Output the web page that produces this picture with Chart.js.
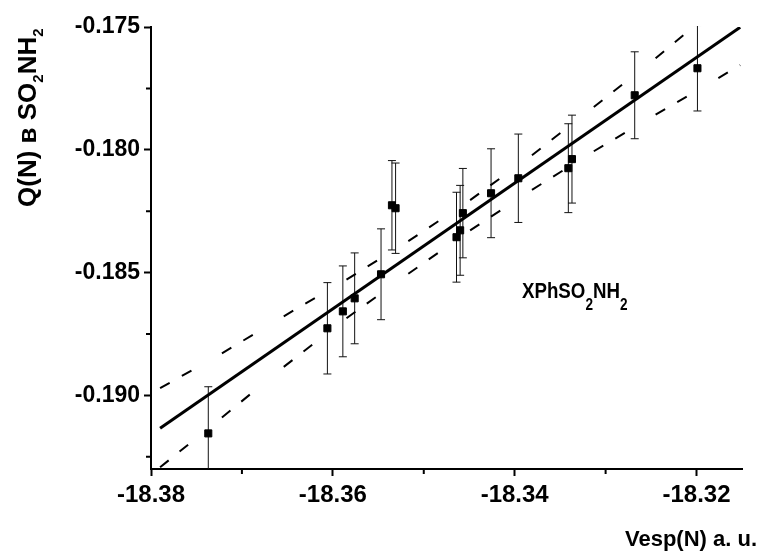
<!DOCTYPE html>
<html>
<head>
<meta charset="utf-8">
<script src="https://cdn.jsdelivr.net/npm/chart.js@4.4.0/dist/chart.umd.min.js"></script>
<style>
  html, body { margin: 0; padding: 0; background: #fff; }
</style>
</head>
<body>
<canvas id="myChart" width="761" height="551"></canvas>
<script>
var xVals = [-18.3737, -18.3606, -18.3589, -18.3576, -18.3547, -18.3535, -18.3531, -18.3464,
  -18.346, -18.3457, -18.3426, -18.3396, -18.3341, -18.3337, -18.3268, -18.3199];
var yVals = [-0.19155, -0.18727, -0.18658, -0.18605, -0.18507, -0.18226, -0.18238, -0.18356,
  -0.18328, -0.18258, -0.18177, -0.18116, -0.18075, -0.18038, -0.17778, -0.17668];
var yErr = [0.0019, 0.00186, 0.00185, 0.00185, 0.00185, 0.00182, 0.00184, 0.00183,
  0.00183, 0.00182, 0.00181, 0.0018, 0.00181, 0.00179, 0.00177, 0.00174];

var fitX = [-18.379, -18.3152];
var fitY = [-0.19134, -0.17501];

var bandX = [-18.379, -18.3722, -18.3654, -18.3585, -18.3517, -18.3449, -18.3381, -18.3313, -18.3245, -18.3176, -18.3152];
var upperY = [-0.18971, -0.18829, -0.18678, -0.18529, -0.18372, -0.18205, -0.18022, -0.17826, -0.17627, -0.17415, -0.17341];
var lowerY = [-0.19293, -0.1909, -0.18884, -0.18686, -0.18505, -0.18328, -0.18163, -0.18006, -0.17857, -0.17708, -0.17655];

var xTicks = [-18.38, -18.36, -18.34, -18.32];
var xMinor = [-18.37, -18.35, -18.33];
var yTicks = [-0.19, -0.185, -0.18, -0.175];
var yMinor = [-0.1925, -0.1875, -0.1825, -0.1775];

var FONT = "'Liberation Sans', Arial, sans-serif";

function pairs(xs, ys) {
  return xs.map(function (x, i) { return { x: x, y: ys[i] }; });
}

// text with subscripts, parts = [[text, isSub], ...]
function richText(ctx, parts, size, subSize, subShift) {
  var x = 0;
  parts.forEach(function (p) {
    ctx.font = "bold " + (p[1] ? subSize : size) + "px " + FONT;
    ctx.fillText(p[0], x, p[1] ? subShift : 0);
    x += ctx.measureText(p[0]).width;
  });
}

var extras = {
  id: "extras",
  beforeDatasetsDraw: function (chart) {
    var ctx = chart.ctx, xs = chart.scales.x, ys = chart.scales.y, a = chart.chartArea;
    ctx.save();
    ctx.beginPath();
    ctx.rect(a.left, a.top - 1, a.right - a.left, a.bottom - a.top + 1);
    ctx.clip();
    ctx.strokeStyle = "#111";
    ctx.lineWidth = 1;
    for (var i = 0; i < xVals.length; i++) {
      var px = xs.getPixelForValue(xVals[i]);
      var top = ys.getPixelForValue(yVals[i] + yErr[i]);
      var bot = ys.getPixelForValue(yVals[i] - yErr[i]);
      ctx.beginPath();
      ctx.moveTo(px, top); ctx.lineTo(px, bot);
      ctx.moveTo(px - 4, top); ctx.lineTo(px + 4, top);
      ctx.moveTo(px - 4, bot); ctx.lineTo(px + 4, bot);
      ctx.stroke();
    }
    ctx.restore();
  },
  afterDraw: function (chart) {
    var ctx = chart.ctx, xs = chart.scales.x, ys = chart.scales.y, a = chart.chartArea;
    ctx.save();
    // minor ticks
    ctx.strokeStyle = "#000";
    ctx.lineWidth = 2;
    ctx.beginPath();
    xMinor.forEach(function (v) {
      var px = xs.getPixelForValue(v);
      ctx.moveTo(px, a.bottom); ctx.lineTo(px, a.bottom + 5);
    });
    yMinor.forEach(function (v) {
      var py = ys.getPixelForValue(v);
      ctx.moveTo(a.left - 5, py); ctx.lineTo(a.left, py);
    });
    ctx.stroke();

    ctx.fillStyle = "#000";
    ctx.textBaseline = "alphabetic";
    ctx.textAlign = "left";

    // y title
    ctx.save();
    ctx.translate(36, 207);
    ctx.rotate(-Math.PI / 2);
    richText(ctx, [["Q(N) в SO", false], ["2", true], ["NH", false], ["2", true]], 26, 15, 7);
    ctx.restore();

    // x title
    ctx.font = "bold 22px " + FONT;
    ctx.textAlign = "right";
    ctx.fillText("Vesp(N) a. u.", 757, 546);

    // series label
    ctx.textAlign = "left";
    ctx.save();
    ctx.translate(522, 298);
    ctx.scale(0.85, 1);
    richText(ctx, [["XPhSO", false], ["2", true], ["NH", false], ["2", true]], 22, 16, 12);
    ctx.restore();
    ctx.restore();
  }
};

var chart = document.getElementById("myChart").getContext("2d");
var myChart = new Chart(chart, {
  type: "scatter",
  data: {
    datasets: [
      {
        data: pairs(xVals, yVals),
        pointStyle: "rect",
        pointRadius: 5,
        backgroundColor: "#000",
        borderColor: "#000",
        borderWidth: 1,
      },
      {
        type: "line",
        data: pairs(fitX, fitY),
        showLine: true,
        borderColor: "#000",
        borderWidth: 3,
        pointRadius: 0,
        fill: false,
      },
      {
        type: "line",
        data: pairs(bandX, upperY),
        showLine: true,
        borderColor: "#000",
        borderWidth: 2,
        borderDash: [11, 14, 11, 200],
        pointRadius: 0,
        fill: false,
        segment: { borderDashOffset: function (c) { return (c.p0DataIndex % 2) * 0.001; } },
      },
      {
        type: "line",
        data: pairs(bandX, lowerY),
        showLine: true,
        borderColor: "#000",
        borderWidth: 2,
        borderDash: [11, 14, 11, 200],
        pointRadius: 0,
        fill: false,
        segment: { borderDashOffset: function (c) { return (c.p0DataIndex % 2) * 0.001; } },
      },
    ],
  },
  options: {
    responsive: false,
    animation: false,
    layout: { padding: { top: 27, right: 19, left: 0, bottom: 0 } },
    plugins: { legend: { display: false }, tooltip: { enabled: false } },
    scales: {
      x: {
        type: "linear",
        min: -18.38,
        max: -18.315,
        afterBuildTicks: function (s) { s.ticks = xTicks.map(function (v) { return { value: v }; }); },
        afterFit: function (s) { s.height = 82; },
        border: { color: "#000", width: 2 },
        grid: { drawOnChartArea: false, tickLength: 7, tickWidth: 2, tickColor: "#000" },
        ticks: {
          color: "#000",
          padding: 5,
          maxRotation: 0,
          font: { family: FONT, size: 24, weight: "bold" },
          callback: function (v) { return v.toFixed(2); },
        },
      },
      y: {
        type: "linear",
        min: -0.193,
        max: -0.175,
        afterBuildTicks: function (s) { s.ticks = yTicks.map(function (v) { return { value: v }; }); },
        afterFit: function (s) { s.width = 151; },
        border: { color: "#000", width: 2 },
        grid: { drawOnChartArea: false, tickLength: 7, tickWidth: 2, tickColor: "#000" },
        ticks: {
          color: "#000",
          padding: 4,
          font: { family: FONT, size: 23, weight: "bold" },
          callback: function (v) { return v.toFixed(3); },
        },
      },
    },
  },
  plugins: [extras],
});
</script>
</body>
</html>
